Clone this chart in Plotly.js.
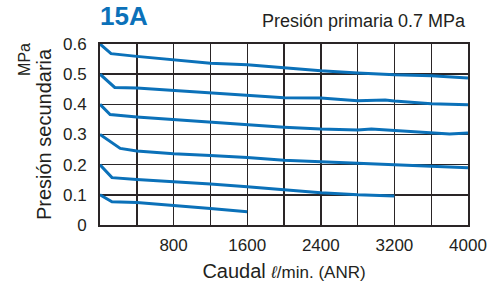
<!DOCTYPE html>
<html>
<head>
<meta charset="utf-8">
<script src="https://cdn.plot.ly/plotly-3.0.1.min.js"></script>
<style>html,body{margin:0;padding:0;background:#fff;}#chart{width:502px;height:282px;}</style>
</head>
<body>
<div id="chart"></div>
<script>
// Flow (l/min ANR) and secondary pressure (MPa)
const flow06 = [0, 120, 400, 800, 1200, 1600, 2000, 2400, 2800, 3200, 3600, 4000];
const pres06 = [0.6, 0.568, 0.559, 0.547, 0.536, 0.531, 0.521, 0.511, 0.504, 0.498, 0.495, 0.487];
const flow05 = [0, 160, 400, 800, 1200, 1600, 2000, 2400, 2800, 3100, 3200, 3600, 4000];
const pres05 = [0.5, 0.456, 0.454, 0.446, 0.437, 0.43, 0.422, 0.421, 0.412, 0.414, 0.411, 0.402, 0.399];
const flow04 = [0, 110, 400, 800, 1200, 1600, 2000, 2400, 2800, 2950, 3200, 3600, 3800, 4000];
const pres04 = [0.4, 0.366, 0.358, 0.349, 0.341, 0.332, 0.324, 0.318, 0.315, 0.318, 0.313, 0.304, 0.302, 0.305];
const flow03 = [0, 220, 400, 800, 1200, 1600, 2000, 2400, 2800, 3200, 3600, 4000];
const pres03 = [0.3, 0.254, 0.245, 0.236, 0.23, 0.224, 0.215, 0.21, 0.205, 0.2, 0.194, 0.19];
const flow02 = [0, 130, 400, 800, 1200, 1600, 2000, 2400, 2800, 3200];
const pres02 = [0.2, 0.157, 0.151, 0.144, 0.136, 0.127, 0.117, 0.107, 0.1, 0.096];
const flow01 = [0, 130, 400, 800, 1200, 1600];
const pres01 = [0.1, 0.077, 0.075, 0.066, 0.055, 0.044];

const xTickVals = [400, 800, 1200, 1600, 2000, 2400, 2800, 3200, 3600, 4000];
const xTickText = ['', '800', '', '1600', '', '2400', '', '3200', '', '4000'];
const yTickVals = [0, 0.1, 0.2, 0.3, 0.4, 0.5, 0.6];
const yTickText = ['0', '0.1', '0.2', '0.3', '0.4', '0.5', '0.6'];

const chartTitle = '15A';
const subTitle = 'Presión primaria 0.7 MPa';
const yTitle = 'Presión secundaria';
const yUnit = 'MPa';
const xTitle = 'Caudal <span style="font-size:17px"><i>ℓ</i>/min. (ANR)</span>';

const series = [[flow06, pres06], [flow05, pres05], [flow04, pres04], [flow03, pres03], [flow02, pres02], [flow01, pres01]];
const blue = '#0b71b9';
const txt = '#231f20';
const grid = '#2a2526';

const traces = series.map(s => ({
  x: s[0], y: s[1], type: 'scatter', mode: 'lines',
  line: {color: blue, width: 3}, hoverinfo: 'skip', showlegend: false, cliponaxis: true
}));

const layout = {
  width: 502, height: 282,
  margin: {l: 100, r: 34, t: 44, b: 57},
  paper_bgcolor: '#fff', plot_bgcolor: '#fff',
  font: {family: 'Liberation Sans, Arial, sans-serif', color: txt, size: 17},
  showlegend: false,
  xaxis: {
    range: [0, 4000], tickvals: xTickVals, ticktext: xTickText,
    showgrid: true, gridcolor: grid, gridwidth: 1.4, zeroline: false,
    showline: true, linecolor: grid, linewidth: 1.6, mirror: true,
    ticks: '', ticklabelstandoff: 4, tickfont: {size: 17, color: txt},
    title: {text: xTitle, font: {size: 20, color: txt}, standoff: 12}
  },
  yaxis: {
    range: [0, 0.6], tickvals: yTickVals, ticktext: yTickText,
    showgrid: true, gridcolor: grid, gridwidth: 1.4, zeroline: false,
    showline: true, linecolor: grid, linewidth: 2, mirror: true,
    ticks: '', ticklabelstandoff: 8, tickfont: {size: 17, color: txt},
    title: {text: yTitle, font: {size: 20, color: txt}, standoff: 6}
  },
  annotations: [
    {text: '<b>' + chartTitle + '</b>', xref: 'paper', yref: 'paper', x: -0.005, y: 1.06,
     xanchor: 'left', yanchor: 'bottom', showarrow: false, font: {size: 26, color: blue}},
    {text: subTitle, xref: 'paper', yref: 'paper', x: 1, y: 1.06,
     xanchor: 'right', yanchor: 'bottom', showarrow: false, font: {size: 18, color: txt}},
    {text: yUnit, xref: 'paper', yref: 'paper', x: -0.205, y: 0.915, textangle: -90,
     xanchor: 'center', yanchor: 'middle', showarrow: false, font: {size: 16, color: txt}}
  ]
};

Plotly.newPlot('chart', traces, layout, {staticPlot: true, displayModeBar: false});
</script>
</body>
</html>
